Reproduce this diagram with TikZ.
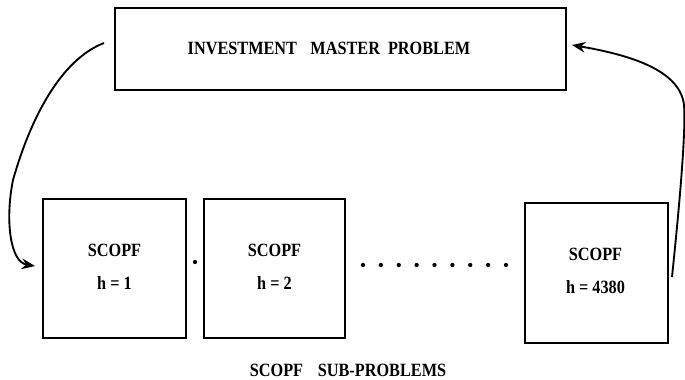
\documentclass[tikz,border=0pt]{standalone}
\usepackage{fontspec}
\setmainfont{Liberation Serif}
\usetikzlibrary{arrows.meta}
\newcommand{\tallfont}[1]{\scalebox{1}[1.15]{#1}}
\begin{document}
\begin{tikzpicture}[x=0.75pt,y=-0.75pt,
  box/.style={draw, line width=1.4pt, inner sep=0pt},
  subbox/.style={box, minimum width=107.25pt, minimum height=104.25pt},
  txt/.style={align=center, inner sep=0pt,
    font=\fontsize{12.2}{24.75}\selectfont\bfseries},
  label/.style={font=\fontsize{12.2}{14}\selectfont\bfseries, inner sep=0pt},
  flow/.style={line width=1.4pt, -{Stealth[length=10pt,width=8pt]}},
  dot/.style={circle, fill, inner sep=0pt, minimum size=3.2pt}]
\useasboundingbox (0,0) rectangle (685,379);

% master problem
\node[box, minimum width=338.25pt, minimum height=61.5pt] (master) at (340.5,49) {};
\node[label] (mtxt) at (329,48.5)
  {\tallfont{INVESTMENT\hspace{10pt}MASTER\hspace{6pt}PROBLEM}};

% hourly sub-problems
\node[subbox] (h1) at (114.5,268.5) {};
\node[subbox, minimum width=105.75pt] (h2) at (274.5,268.5) {};
\node[subbox, minimum height=105pt] (hN) at (596.5,273) {};
\path (h1.center) ++(0,-1.5) node[txt] (t1) {\tallfont{SCOPF}\\\tallfont{h = 1}};
\path (h2.center) ++(0,-1.5) node[txt] (t2) {\tallfont{SCOPF}\\\tallfont{h = 2}};
\path (hN.center) ++(-1,-2) node[txt] (tN) {\tallfont{SCOPF}\\\tallfont{h = 4380}};

\node[label] (sub) at (348,370) {\tallfont{SCOPF\hspace{11pt}SUB-PROBLEMS}};

% ellipsis between the boxes
\node[dot] (d0) at (195,262) {};
\foreach \i in {0,...,8} {
  \node[dot] (e\i) at ({363+17.875*\i},265) {};
}

% feedback loop
\coordinate (outL) at (104,43);
\coordinate (inL) at (35,266);
\coordinate (outR) at (672,277);
\coordinate (inR) at (572,45);
\draw[flow] (outL) .. controls (60,60) and (30,120) .. (13,180)
  .. controls (5,220) and (10,262) .. (inL);
\draw[flow] (outR) .. controls (680,200) and (686,130) .. (684,105)
  .. controls (680,70) and (630,55) .. (inR);
\end{tikzpicture}
\end{document}
